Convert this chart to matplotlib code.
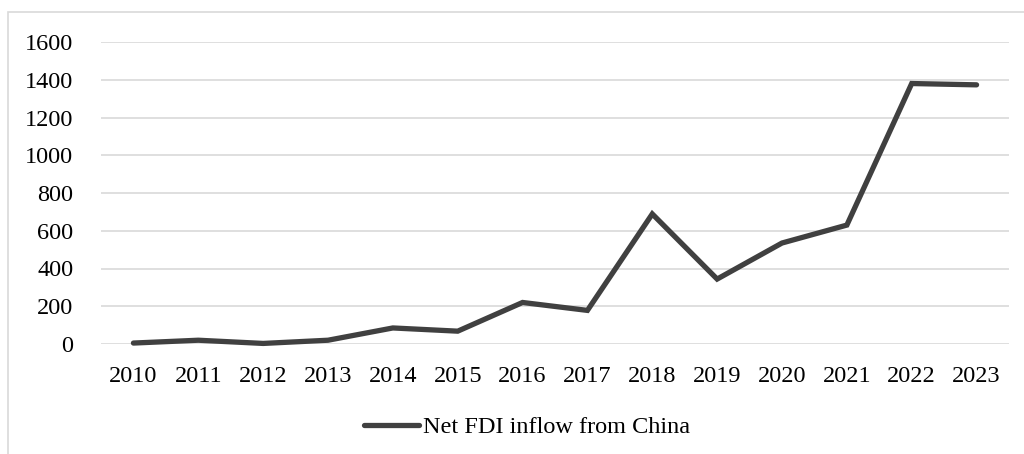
import matplotlib
matplotlib.use("Agg")
import matplotlib.pyplot as plt
from matplotlib.patches import Rectangle
from matplotlib.lines import Line2D

years = ["2010", "2011", "2012", "2013", "2014", "2015", "2016",
         "2017", "2018", "2019", "2020", "2021", "2022", "2023"]
fdi = [5, 20, 3, 20, 85, 68, 220, 178, 689, 344, 535, 630, 1380, 1373]
yticks = [0, 200, 400, 600, 800, 1000, 1200, 1400, 1600]
series_name = "Net FDI inflow from China"

plt.rcParams['font.family'] = ['Liberation Serif', 'DejaVu Serif']
W, H = 1024, 454
fig = plt.figure(figsize=(W / 100, H / 100), dpi=100)

# outer border
fig.patches.append(Rectangle((8 / W, -0.1), 1.2, 1 - 12 / H + 0.1,
                             transform=fig.transFigure, fill=False,
                             edgecolor="#d9d9d9", linewidth=1.2))

ax = fig.add_axes([101 / W, 1 - 344 / H, (1009 - 101) / W, (344 - 42) / H])
x = list(range(len(years)))
ax.plot(x, fdi, color="#404040", linewidth=3.8, solid_joinstyle="miter",
        solid_capstyle="round", clip_on=False)
ax.set_xlim(-0.5, len(years) - 0.5)
ax.set_ylim(0, 1600)
ax.set_yticks(yticks)
ax.set_yticklabels([str(v) for v in yticks])
ax.set_xticks(x)
ax.set_xticklabels(years)
ax.grid(axis="y", color="#d9d9d9", linewidth=1.2)
ax.set_axisbelow(True)
for s in ax.spines.values():
    s.set_visible(False)
ax.tick_params(axis="both", length=0, labelsize=17.5, colors="black")
ax.tick_params(axis="y", pad=20)
ax.tick_params(axis="x", pad=16)

handle = Line2D([], [], color="#404040", linewidth=3.8, solid_capstyle="round")
fig.legend([handle], [series_name], loc="center", bbox_to_anchor=(527 / W, 1 - 427 / H),
           frameon=False, fontsize=17.5, handlelength=2.25, handletextpad=0.15)

fig.savefig("out.png", dpi=100)
